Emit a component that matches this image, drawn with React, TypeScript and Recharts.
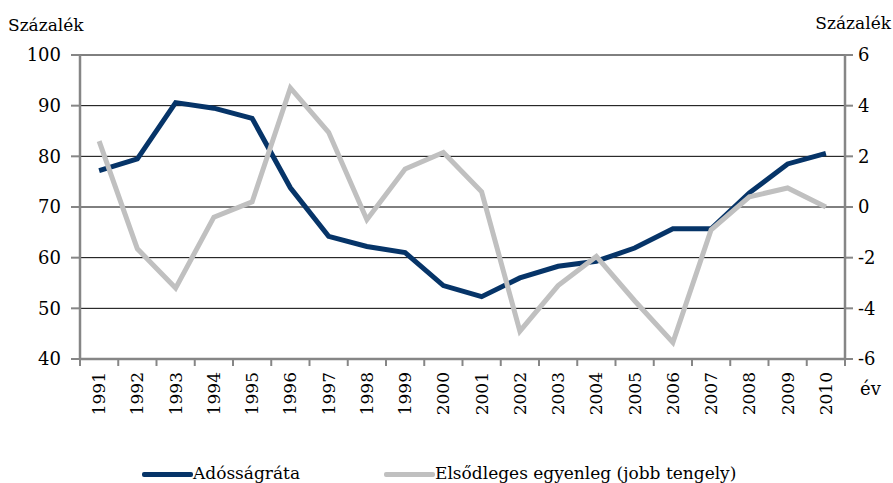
import { LineChart, Line, XAxis, YAxis, CartesianGrid, Legend, Label } from 'recharts';

const years = [1991, 1992, 1993, 1994, 1995, 1996, 1997, 1998, 1999, 2000, 2001, 2002, 2003, 2004, 2005, 2006, 2007, 2008, 2009, 2010];
const debtRatio = [77.2, 79.5, 90.6, 89.5, 87.5, 73.8, 64.2, 62.2, 61.0, 54.5, 52.3, 56.0, 58.3, 59.3, 61.9, 65.7, 65.7, 72.8, 78.5, 80.6];
const primaryBalance = [2.6, -1.65, -3.2, -0.4, 0.2, 4.7, 2.95, -0.5, 1.5, 2.15, 0.6, -4.9, -3.1, -1.95, -3.7, -5.35, -0.9, 0.4, 0.75, 0.0];
const leftTicks = [40, 50, 60, 70, 80, 90, 100];
const rightTicks = [-6, -4, -2, 0, 2, 4, 6];

const NAVY = '#063468';
const GRAY = '#c0c0c0';
const AXIS = '#868686';
const FONT = 'DejaVu Serif';

const data = years.map((year, i) => ({
  year,
  debt: debtRatio[i],
  balance: primaryBalance[i],
}));

// half the category width in px: plot is 765px wide over 20 years
const HALF_STEP = 765 / 20 / 2;

function YearTick(props: any) {
  const { x, y, payload } = props;
  const isLast = payload.value === years[years.length - 1];
  return (
    <g>
      <line x1={x - HALF_STEP} y1={y - 13} x2={x - HALF_STEP} y2={y - 6} stroke={AXIS} strokeWidth={2} />
      {isLast && (
        <line x1={x + HALF_STEP} y1={y - 13} x2={x + HALF_STEP} y2={y - 6} stroke={AXIS} strokeWidth={2} />
      )}
      <text
        x={x}
        y={y}
        dy="0.35em"
        textAnchor="end"
        transform={`rotate(-90, ${x}, ${y})`}
        style={{ fontFamily: FONT, fontSize: 17 }}
        fill="#000"
      >
        {payload.value}
      </text>
    </g>
  );
}

function LegendContent() {
  const item = (left: number, color: string, text: string) => (
    <div style={{ position: 'absolute', left, top: 0, display: 'flex', alignItems: 'center', whiteSpace: 'nowrap' }}>
      <span style={{ display: 'inline-block', width: 51, height: 5, background: color, borderRadius: 2, marginTop: 2 }} />
      <span style={{ fontFamily: FONT, fontSize: 17, lineHeight: '26px', color: '#000' }}>{text}</span>
    </div>
  );
  return (
    <div style={{ position: 'relative', height: 28, width: 893 }}>
      {item(142, NAVY, 'Adósságráta')}
      {item(384, GRAY, 'Elsődleges egyenleg (jobb tengely)')}
    </div>
  );
}

const tickStyle = { fontFamily: FONT, fontSize: 18, fill: '#000' };

export default function App() {
  return (
    <div style={{ position: 'absolute', left: 0, top: 0, width: 893, height: 483, background: '#fff', fontFamily: FONT }}>
      <LineChart width={893} height={483} data={data} margin={{ top: 55, right: 0, left: 0, bottom: 0 }} style={{ fontFamily: FONT }}>
        <CartesianGrid yAxisId="left" vertical={false} stroke="#000" strokeWidth={1} />
        <XAxis
          dataKey="year"
          type="number"
          domain={[1990.5, 2010.5]}
          ticks={years}
          interval={0}
          height={124}
          tickLine={false}
          tickSize={7}
          tickMargin={6}
          axisLine={{ stroke: AXIS, strokeWidth: 2.5 }}
          tick={<YearTick />}
        >
          <Label
            content={(p: any) => (
              <text x={p.viewBox.x + p.viewBox.width + 15} y={p.viewBox.y + 36} style={{ fontFamily: FONT, fontSize: 18 }} fill="#000">
                év
              </text>
            )}
          />
        </XAxis>
        <YAxis
          yAxisId="left"
          domain={[40, 100]}
          ticks={leftTicks}
          width={80}
          tickSize={9}
          tickMargin={10}
          axisLine={{ stroke: AXIS, strokeWidth: 2.5 }}
          tickLine={{ stroke: AXIS, strokeWidth: 2 }}
          tick={tickStyle}
        >
          <Label
            content={(p: any) => (
              <text x={8} y={p.viewBox.y - 24} style={{ fontFamily: FONT, fontSize: 17 }} fill="#000">
                Százalék
              </text>
            )}
          />
        </YAxis>
        <YAxis
          yAxisId="right"
          orientation="right"
          domain={[-6, 6]}
          ticks={rightTicks}
          width={48}
          tickSize={8}
          tickMargin={5}
          axisLine={{ stroke: AXIS, strokeWidth: 2.5 }}
          tickLine={{ stroke: AXIS, strokeWidth: 2 }}
          tick={tickStyle}
        >
          <Label
            content={(p: any) => (
              <text x={p.viewBox.x + p.viewBox.width - 2} y={p.viewBox.y - 26} textAnchor="end" style={{ fontFamily: FONT, fontSize: 17 }} fill="#000">
                Százalék
              </text>
            )}
          />
        </YAxis>
        <Legend
          verticalAlign="middle"
          align="center"
          layout="horizontal"
          wrapperStyle={{ left: 0, top: 460, width: 893, height: 28 }}
          content={<LegendContent />}
        />
        <Line
          yAxisId="left"
          type="linear"
          dataKey="debt"
          name="Adósságráta"
          stroke={NAVY}
          strokeWidth={5}
          dot={false}
          isAnimationActive={false}
        />
        <Line
          yAxisId="right"
          type="linear"
          dataKey="balance"
          name="Elsődleges egyenleg (jobb tengely)"
          stroke={GRAY}
          strokeWidth={5}
          dot={false}
          isAnimationActive={false}
        />
      </LineChart>
    </div>
  );
}
